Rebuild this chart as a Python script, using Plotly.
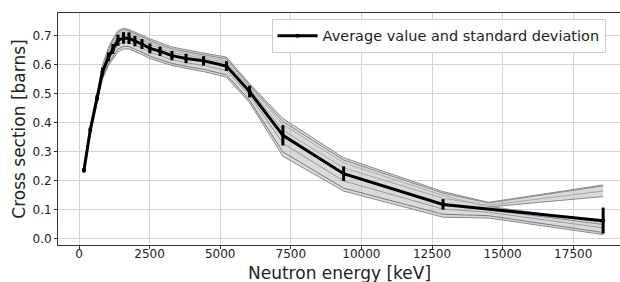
import plotly.graph_objects as go

# Mean curve with standard deviation
energy = [175, 400, 640, 830, 1045, 1200, 1380, 1575, 1770, 1980, 2230, 2510, 2870,
          3290, 3790, 4410, 5220, 6040, 7220, 9370, 12890, 18560]
mean_xs = [0.237, 0.376, 0.486, 0.576, 0.628, 0.655, 0.685, 0.693, 0.692, 0.682, 0.672,
           0.657, 0.647, 0.632, 0.622, 0.614, 0.596, 0.508, 0.357, 0.225, 0.119, 0.063]
std_xs = [0.008, 0.008, 0.010, 0.014, 0.015, 0.017, 0.019, 0.020, 0.020, 0.018, 0.017,
          0.017, 0.016, 0.016, 0.016, 0.016, 0.017, 0.020, 0.035, 0.025, 0.018, 0.045]

# Sample curves (grid includes an extra point at 14500 keV)
sample_energy = [175, 400, 640, 830, 1045, 1200, 1380, 1575, 1770, 1980, 2230, 2510, 2870,
                 3290, 3790, 4410, 5220, 6040, 7220, 9370, 12890, 14500, 18560]
band_upper = [0.245, 0.390, 0.500, 0.600, 0.660, 0.690, 0.718, 0.727, 0.722, 0.712, 0.702, 0.690,
              0.676, 0.662, 0.652, 0.642, 0.627, 0.535, 0.415, 0.280, 0.163, 0.126]
band_lower = [0.228, 0.362, 0.470, 0.550, 0.598, 0.622, 0.645, 0.655, 0.655, 0.646, 0.636, 0.622,
              0.612, 0.598, 0.588, 0.577, 0.558, 0.470, 0.285, 0.165, 0.075, 0.072]
tail_energy = [14500, 18560]
tail_hi_upper = [0.126, 0.186]
tail_hi_lower = [0.110, 0.146]
tail_lo_upper = [0.112, 0.058]
tail_lo_lower = [0.072, 0.015]

samples = [
    [0.243, 0.386, 0.496, 0.594, 0.652, 0.683, 0.712, 0.722, 0.717, 0.707, 0.697, 0.684, 0.670, 0.656, 0.646, 0.636, 0.621, 0.530, 0.405, 0.272, 0.158, 0.124, 0.183],
    [0.240, 0.380, 0.490, 0.585, 0.640, 0.668, 0.698, 0.706, 0.704, 0.694, 0.684, 0.670, 0.658, 0.643, 0.633, 0.624, 0.607, 0.518, 0.375, 0.245, 0.140, 0.116, 0.165],
    [0.237, 0.376, 0.486, 0.576, 0.628, 0.655, 0.685, 0.693, 0.692, 0.682, 0.672, 0.657, 0.647, 0.632, 0.622, 0.614, 0.596, 0.508, 0.357, 0.225, 0.120, 0.100, 0.050],
    [0.234, 0.371, 0.480, 0.567, 0.617, 0.643, 0.670, 0.680, 0.678, 0.668, 0.658, 0.644, 0.632, 0.618, 0.608, 0.598, 0.581, 0.495, 0.330, 0.200, 0.103, 0.092, 0.038],
    [0.230, 0.366, 0.474, 0.556, 0.606, 0.630, 0.655, 0.664, 0.663, 0.654, 0.644, 0.630, 0.619, 0.605, 0.595, 0.585, 0.566, 0.478, 0.300, 0.175, 0.085, 0.080, 0.022],
    [0.242, 0.384, 0.494, 0.590, 0.646, 0.676, 0.705, 0.714, 0.711, 0.701, 0.690, 0.677, 0.664, 0.650, 0.640, 0.630, 0.614, 0.525, 0.395, 0.262, 0.150, 0.110, 0.058],
]
sample_colors = ["#8a8a8a", "#a8a8a8", "#7f8c99", "#9a9a9a", "#6f7f90", "#b0b0b0"]

x_ticks = [0, 2500, 5000, 7500, 10000, 12500, 15000, 17500]
y_ticks = [0.0, 0.1, 0.2, 0.3, 0.4, 0.5, 0.6, 0.7]

fig = go.Figure()
band_fill = "rgba(180,180,180,0.5)"
edge = dict(color="#8a8a8a", width=1)

def add_band(xs, up, lo):
    fig.add_trace(go.Scatter(x=xs, y=lo, mode="lines", line=edge, showlegend=False, hoverinfo="skip"))
    fig.add_trace(go.Scatter(x=xs, y=up, mode="lines", line=edge, fill="tonexty",
                             fillcolor=band_fill, showlegend=False, hoverinfo="skip"))

add_band(sample_energy[:-1], band_upper, band_lower)
add_band(tail_energy, tail_hi_upper, tail_hi_lower)
add_band(tail_energy, tail_lo_upper, tail_lo_lower)

for s, c in zip(samples, sample_colors):
    fig.add_trace(go.Scatter(x=sample_energy, y=s, mode="lines", line=dict(color=c, width=1),
                             showlegend=False, hoverinfo="skip"))

fig.add_trace(go.Scatter(
    x=energy, y=mean_xs, mode="lines+markers",
    line=dict(color="black", width=3),
    marker=dict(color="black", size=4),
    error_y=dict(type="data", array=std_xs, color="black", thickness=3, width=0),
    name="Average value and standard deviation",
))

fig.update_layout(
    width=620, height=282,
    margin=dict(l=58, r=0, t=13, b=37, autoexpand=False),
    paper_bgcolor="white", plot_bgcolor="white",
    font=dict(family="DejaVu Sans", color="#222"),
    legend=dict(x=0.38, y=0.975, xanchor="left", yanchor="top", itemwidth=40,
                bgcolor="rgba(255,255,255,0.9)", bordercolor="#cccccc", borderwidth=1,
                font=dict(size=14.5, color="#222")),
    annotations=[dict(text="Neutron energy [keV]", xref="paper", yref="paper",
                      x=0.5, y=-0.12, xanchor="center", yanchor="middle",
                      showarrow=False, font=dict(size=17, color="#222"))],
)
fig.update_xaxes(range=[-744, 19157], tickvals=x_ticks, ticktext=[str(v) for v in x_ticks],
                 automargin=False, ticklabelstandoff=-5,
                 showgrid=True, gridcolor="#d3d3d3", gridwidth=1, zeroline=False,
                 showline=True, linecolor="#333", linewidth=1, mirror=True,
                 ticks="outside", ticklen=3, tickcolor="#333", tickfont=dict(size=12))
fig.update_yaxes(range=[-0.021, 0.779], tickvals=y_ticks, ticktext=[f"{v:.1f}" for v in y_ticks],
                 automargin=False,
                 showgrid=True, gridcolor="#d3d3d3", gridwidth=1, zeroline=False,
                 showline=True, linecolor="#333", linewidth=1, mirror=True,
                 ticks="outside", ticklen=3, tickcolor="#333", tickfont=dict(size=12),
                 title=dict(text="Cross section [barns]", font=dict(size=17), standoff=2))

fig.write_html(
    "out.html",
    config={"displayModeBar": False},
    post_script="document.body.style.margin='0';document.body.style.overflow='hidden';"
                "document.documentElement.style.overflow='hidden';",
)
